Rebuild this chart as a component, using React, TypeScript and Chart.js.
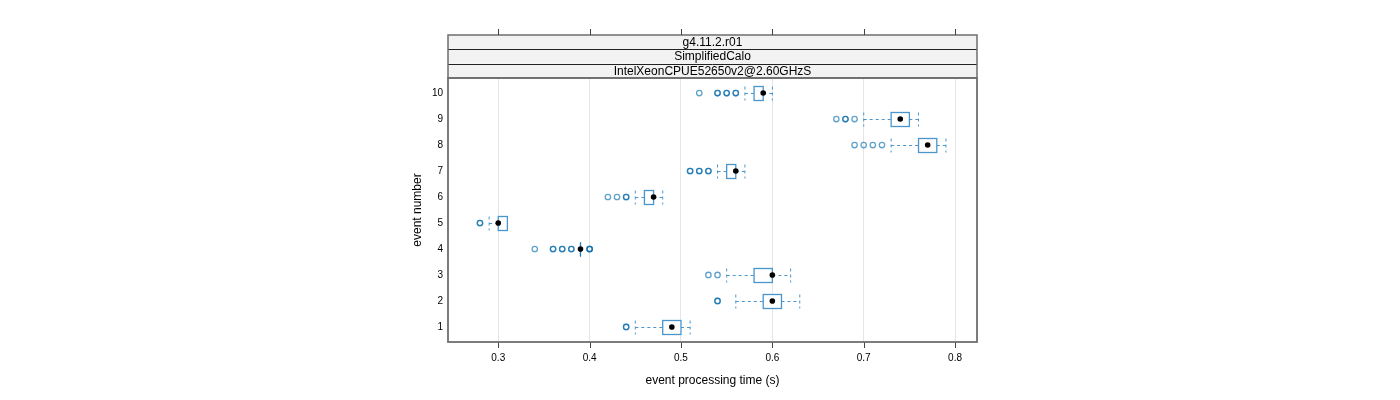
import React, { useEffect, useRef } from "react";
import { Chart, registerables } from "chart.js";

Chart.register(...registerables);

const events = [1, 2, 3, 4, 5, 6, 7, 8, 9, 10];
const q1 = [0.48, 0.59, 0.58, 0.39, 0.30, 0.46, 0.55, 0.76, 0.73, 0.58];
const medians = [0.49, 0.60, 0.60, 0.39, 0.30, 0.47, 0.56, 0.77, 0.74, 0.59];
const q3 = [0.50, 0.61, 0.60, 0.39, 0.31, 0.47, 0.56, 0.78, 0.75, 0.59];
const whiskerLow = [0.45, 0.56, 0.55, 0.39, 0.29, 0.45, 0.54, 0.73, 0.70, 0.57];
const whiskerHigh = [0.51, 0.63, 0.62, 0.39, 0.31, 0.48, 0.57, 0.79, 0.76, 0.60];
const outliers: number[][] = [
  [0.44, 0.44],
  [0.54, 0.54],
  [0.53, 0.54],
  [0.34, 0.36, 0.36, 0.37, 0.37, 0.38, 0.38, 0.40, 0.40, 0.40],
  [0.28, 0.28],
  [0.42, 0.43, 0.44, 0.44],
  [0.51, 0.51, 0.52, 0.52, 0.53, 0.53],
  [0.69, 0.70, 0.71, 0.72],
  [0.67, 0.68, 0.68, 0.69],
  [0.52, 0.54, 0.54, 0.55, 0.55, 0.56, 0.56],
];
const xTicks = [0.3, 0.4, 0.5, 0.6, 0.7, 0.8];
const yTicks = events;
const stripLabels = ["g4.11.2.r01", "SimplifiedCalo", "IntelXeonCPUE52650v2@2.60GHzS"];

const FONT = "'Liberation Sans', Arial, sans-serif";
const BOX_COLOR = "#4a96cc";

const boxPlugin = {
  id: "boxPlugin",
  beforeDatasetsDraw(chart: any) {
    const { ctx } = chart;
    const xs = chart.scales.x;
    const ys = chart.scales.y;
    const half = 7;
    ctx.save();
    events.forEach((ev, i) => {
      const y = Math.round(ys.getPixelForValue(ev)) + 0.5;
      const xl = xs.getPixelForValue(whiskerLow[i]);
      const xq1 = xs.getPixelForValue(q1[i]);
      const xq3 = xs.getPixelForValue(q3[i]);
      const xh = xs.getPixelForValue(whiskerHigh[i]);
      ctx.strokeStyle = BOX_COLOR;
      ctx.lineWidth = 1;
      ctx.setLineDash([3, 3]);
      ctx.beginPath();
      if (xq1 > xl) { ctx.moveTo(xl, y); ctx.lineTo(xq1, y); }
      if (xh > xq3) { ctx.moveTo(xq3, y); ctx.lineTo(xh, y); }
      ctx.moveTo(xl, y - half); ctx.lineTo(xl, y + half);
      ctx.moveTo(xh, y - half); ctx.lineTo(xh, y + half);
      ctx.stroke();
      ctx.setLineDash([]);
      ctx.lineWidth = 1.3;
      ctx.fillStyle = "#ffffff";
      if (xq3 - xq1 > 0.5) {
        ctx.fillRect(xq1, y - half, xq3 - xq1, 2 * half);
        ctx.strokeRect(xq1, y - half, xq3 - xq1, 2 * half);
      } else {
        ctx.strokeStyle = "#1f7fbf";
        ctx.beginPath();
        ctx.moveTo(xq1, y - half);
        ctx.lineTo(xq1, y + half);
        ctx.stroke();
      }
    });
    ctx.restore();
  },
  afterDraw(chart: any) {
    const { ctx, chartArea } = chart;
    const xs = chart.scales.x;
    const { left, right, top, bottom } = chartArea;
    ctx.save();
    // strips
    const stripTop = 35;
    const stripH = (top - stripTop) / 3;
    stripLabels.forEach((lab, k) => {
      const sy = stripTop + k * stripH;
      ctx.fillStyle = "#f2f2f2";
      ctx.fillRect(left, sy, right - left, stripH);
      ctx.fillStyle = "#000";
      ctx.font = "12px " + FONT;
      ctx.textAlign = "center";
      ctx.textBaseline = "middle";
      ctx.fillText(lab, (left + right) / 2, sy + stripH / 2 + 0.5);
    });
    ctx.strokeStyle = "#222";
    ctx.lineWidth = 1;
    ctx.beginPath();
    for (let k = 1; k < 3; k++) {
      const sy = Math.round(stripTop + k * stripH) + 0.5;
      ctx.moveTo(left, sy);
      ctx.lineTo(right, sy);
    }
    ctx.stroke();
    ctx.strokeStyle = "#6e6e6e";
    ctx.lineWidth = 1.5;
    ctx.strokeRect(left, stripTop, right - left, top - stripTop);
    // top and bottom ticks
    ctx.strokeStyle = "#444";
    ctx.lineWidth = 1;
    ctx.beginPath();
    xTicks.forEach((v) => {
      const x = Math.round(xs.getPixelForValue(v)) + 0.5;
      ctx.moveTo(x, 29);
      ctx.lineTo(x, stripTop);
      ctx.moveTo(x, bottom);
      ctx.lineTo(x, bottom + 6);
    });
    ctx.stroke();
    // frame
    ctx.strokeStyle = "#6e6e6e";
    ctx.lineWidth = 1.8;
    ctx.strokeRect(left, top, right - left, bottom - top);
    ctx.restore();
  },
};

export default function App() {
  const ref = useRef<HTMLCanvasElement | null>(null);
  useEffect(() => {
    document.body.style.margin = "0";
    if (!ref.current) return;
    const outlierData: { x: number; y: number }[] = [];
    events.forEach((ev, i) => outliers[i].forEach((v) => outlierData.push({ x: v, y: ev })));
    const medianData = events.map((ev, i) => ({ x: medians[i], y: ev }));
    const chart = new Chart(ref.current, {
      type: "scatter",
      data: {
        datasets: [
          {
            data: outlierData,
            pointStyle: "circle",
            pointRadius: 2.7,
            pointBorderWidth: 1.3,
            borderColor: "rgba(0,105,170,0.62)",
            backgroundColor: "rgba(0,0,0,0)",
            pointHoverRadius: 2.7,
          } as any,
          {
            data: medianData,
            pointStyle: "circle",
            pointRadius: 2.8,
            pointBorderWidth: 0,
            borderColor: "#000",
            backgroundColor: "#000",
          } as any,
        ],
      },
      options: {
        responsive: false,
        animation: false,
        events: [],
        layout: { padding: { left: 410, right: 423, top: 78, bottom: 0 } },
        plugins: { legend: { display: false }, tooltip: { enabled: false } },
        scales: {
          x: {
            type: "linear",
            min: 0.245,
            max: 0.824,
            afterBuildTicks: (s: any) => { s.ticks = xTicks.map((v) => ({ value: v })); },
            afterFit: (s: any) => { s.height = 58; },
            border: { display: false },
            grid: { color: "#e6e6e6", lineWidth: 1, drawTicks: false } as any,
            ticks: {
              color: "#000",
              font: { family: FONT, size: 10 },
              padding: 10,
              maxRotation: 0,
              callback: (v: any) => Number(v).toFixed(1),
            },
            title: {
              display: true,
              text: "event processing time (s)",
              color: "#000",
              font: { family: FONT, size: 12 },
              padding: { top: 0, bottom: 12 },
            },
          },
          y: {
            type: "linear",
            min: 0.42,
            max: 10.58,
            afterBuildTicks: (s: any) => { s.ticks = yTicks.map((v) => ({ value: v })); },
            afterFit: (s: any) => { s.width = 38; },
            border: { display: false },
            grid: { display: false, drawTicks: false },
            ticks: {
              color: "#000",
              font: { family: FONT, size: 10 },
              padding: 5,
              callback: (v: any) => String(v),
            },
            title: {
              display: true,
              text: "event number",
              color: "#000",
              font: { family: FONT, size: 12 },
              padding: 0,
            },
          },
        },
      },
      plugins: [boxPlugin],
    } as any);
    return () => chart.destroy();
  }, []);
  return <canvas ref={ref} width={1400} height={400} style={{ display: "block", width: 1400, height: 400 }} />;
}
